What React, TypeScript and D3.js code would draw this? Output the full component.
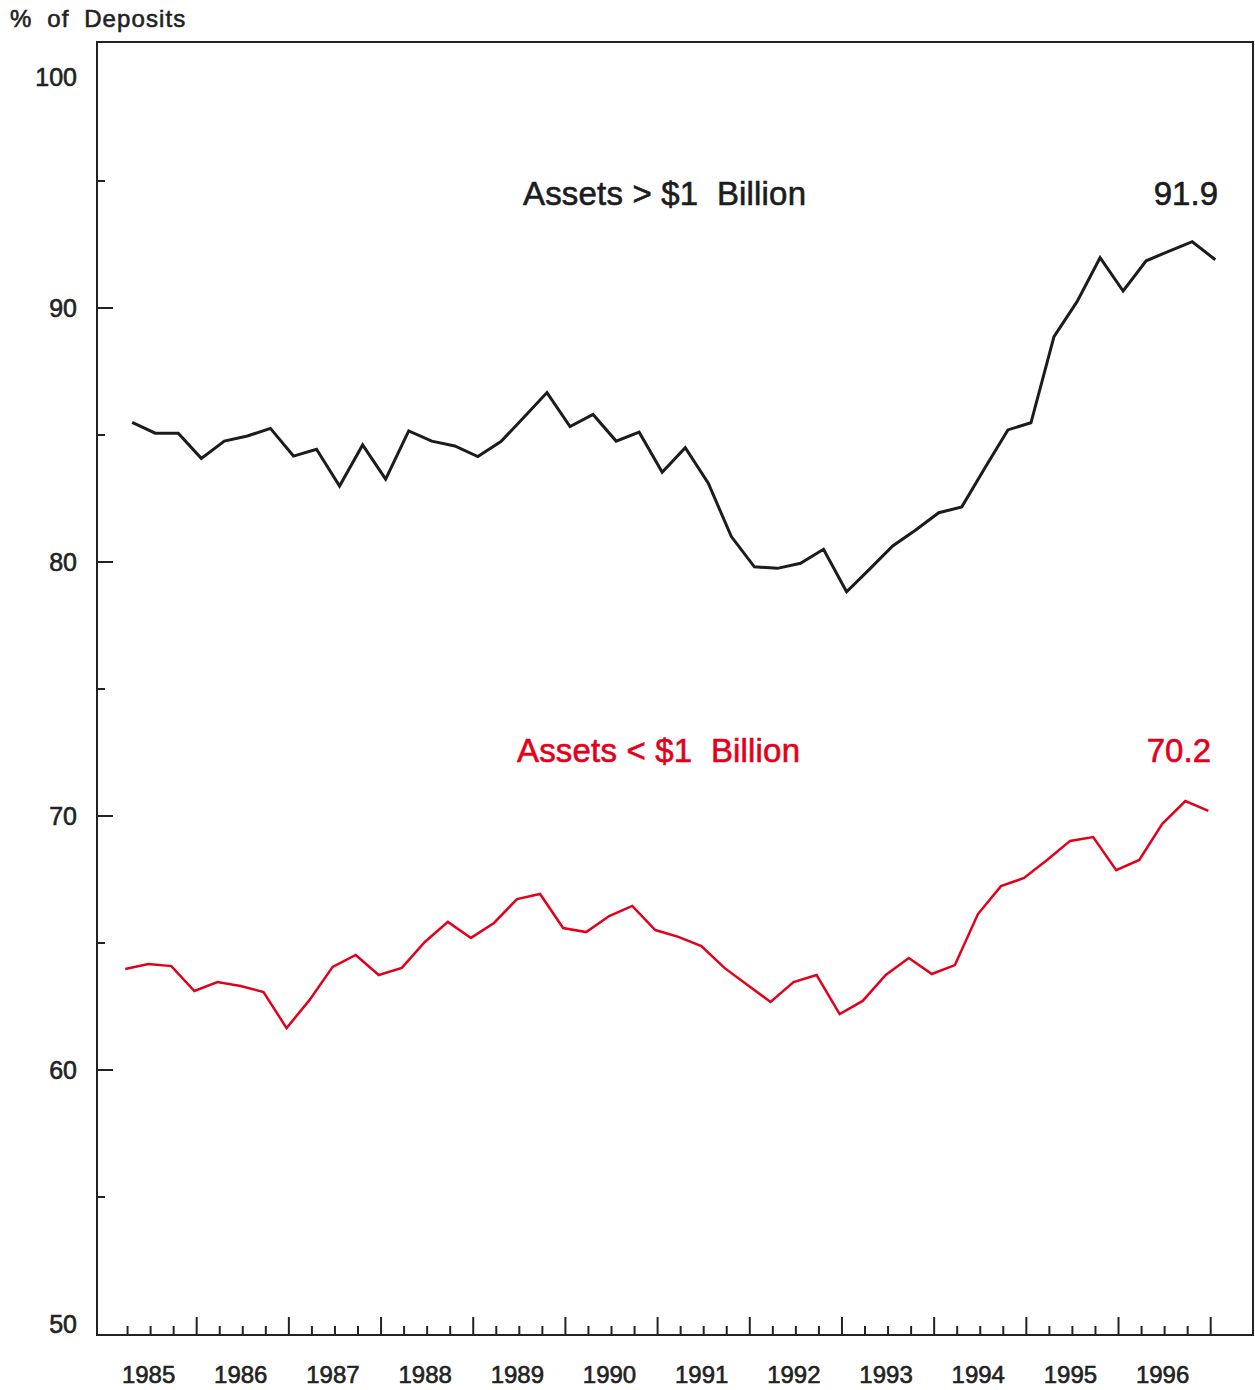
import React from "react";
import * as d3 from "d3";

// ---- Data (quarterly, 1985Q1 .. 1996Q4) ----
const years = [1985, 1986, 1987, 1988, 1989, 1990, 1991, 1992, 1993, 1994, 1995, 1996];
const quarters = years.flatMap((y) => [1, 2, 3, 4].map((q) => `${y}Q${q}`));

const largeBanks = [
  85.5, 85.07, 85.07, 84.08, 84.76, 84.96, 85.26, 84.17,
  84.44, 82.99, 84.61, 83.26, 85.16, 84.76, 84.57, 84.15,
  84.74, 85.7, 86.67, 85.33, 85.81, 84.76, 85.11, 83.53,
  84.5, 83.1, 81.0, 79.81, 79.75, 79.95, 80.5, 78.83,
  79.72, 80.63, 81.26, 81.94, 82.17, 83.7, 85.2, 85.48,
  88.87, 90.25, 91.98, 90.67, 91.86, 92.24, 92.61, 91.9,
];
const smallBanks = [
  63.98, 64.17, 64.09, 63.11, 63.46, 63.31, 63.07, 61.65,
  62.76, 64.06, 64.53, 63.74, 64.02, 65.04, 65.83, 65.2,
  65.79, 66.73, 66.93, 65.59, 65.43, 66.06, 66.46, 65.51,
  65.24, 64.88, 64.02, 63.35, 62.68, 63.46, 63.74, 62.2,
  62.72, 63.74, 64.41, 63.78, 64.13, 66.14, 67.24, 67.56,
  68.27, 69.02, 69.17, 67.87, 68.27, 69.69, 70.59, 70.2,
];

const yTickLabels = [50, 60, 70, 80, 90, 100];
const yMajorTicks = [60, 70, 80, 90];
const yMinorTicks = [55, 65, 75, 85, 95];

const seriesLabels = {
  large: "Assets > $1  Billion",
  small: "Assets < $1  Billion",
};
const lastLabels = { large: "91.9", small: "70.2" };
const yTitle = "% of Deposits";

// ---- Layout ----
const W = 1255;
const H = 1390;
const frame = { left: 97, right: 1253, top: 42, bottom: 1335 };
const BLACK = "#1c1c1e";
const RED = "#e3001b";
const FONT = "'Liberation Sans', Arial, Helvetica, sans-serif";

export default function App() {
  const x = d3.scaleLinear().domain([1985, 1997]).range([104.5, 1210.7]);
  const y = d3.scaleLinear().domain([90, 50]).range([308, 1324]);

  const qTime = (i: number, offset: number) => years[0] + offset + i * 0.25;
  const largePts = largeBanks.map((v, i) => [x(qTime(i, 0.3)), y(v)] as [number, number]);
  const smallPts = smallBanks.map((v, i) => [x(qTime(i, 0.225)), y(v)] as [number, number]);
  const line = d3.line();

  const minorX = quarters
    .map((_, i) => years[0] + i * 0.25)
    .filter((t) => t > years[0] && Math.abs(t - Math.round(t)) > 1e-6);
  const majorX = d3.range(years[0] + 1, years[years.length - 1] + 2);

  const heavy = (c: string) => ({ stroke: c, strokeWidth: 0.6 });

  return (
    <svg
      width={W}
      height={H}
      style={{ position: "absolute", left: 0, top: 0, background: "#fff" }}
      fontFamily={FONT}
    >
      <rect x={0} y={0} width={W} height={H} fill="#fff" />
      {/* frame */}
      <rect
        x={frame.left}
        y={frame.top}
        width={frame.right - frame.left}
        height={frame.bottom - frame.top}
        fill="none"
        stroke="#222"
        strokeWidth={2}
      />
      {/* y title */}
      <text x={10} y={27} fontSize={24} fill="#222" wordSpacing={7} letterSpacing={1.1} {...heavy("#222")}>
        {yTitle}
      </text>
      {/* y ticks */}
      {yMajorTicks.map((v) => (
        <line key={"ym" + v} x1={frame.left} x2={frame.left + 16} y1={y(v)} y2={y(v)} stroke="#222" strokeWidth={2} />
      ))}
      {yMinorTicks.map((v) => (
        <line key={"yn" + v} x1={frame.left} x2={frame.left + 8} y1={y(v)} y2={y(v)} stroke="#222" strokeWidth={2} />
      ))}
      {yTickLabels.map((v) => (
        <text
          key={"yl" + v}
          x={77}
          y={Math.max(y(v), frame.top + 35) + 9}
          fontSize={25}
          textAnchor="end"
          fill="#222"
          {...heavy("#222")}
        >
          {v}
        </text>
      ))}
      {/* x ticks */}
      {minorX.map((t) => (
        <line key={"xn" + t} x1={x(t)} x2={x(t)} y1={frame.bottom} y2={frame.bottom - 9} stroke="#222" strokeWidth={2} />
      ))}
      {majorX.map((t) => (
        <line key={"xm" + t} x1={x(t)} x2={x(t)} y1={frame.bottom} y2={frame.bottom - 18} stroke="#222" strokeWidth={2} />
      ))}
      {years.map((yr) => (
        <text key={"xl" + yr} x={x(yr + 0.5) - 2} y={1383} fontSize={24} textAnchor="middle" fill="#222" {...heavy("#222")}>
          {yr}
        </text>
      ))}
      {/* lines */}
      <path d={line(largePts) || ""} fill="none" stroke={BLACK} strokeWidth={3} strokeLinejoin="miter" />
      <path d={line(smallPts) || ""} fill="none" stroke={RED} strokeWidth={2.5} strokeLinejoin="miter" />
      {/* annotations */}
      <text x={523} y={205} fontSize={33} fill={BLACK} style={{ whiteSpace: "pre" }} textLength={283} {...heavy(BLACK)}>
        {seriesLabels.large}
      </text>
      <text x={1218} y={205} fontSize={33} fill={BLACK} textAnchor="end" {...heavy(BLACK)}>
        {lastLabels.large}
      </text>
      <text x={517} y={762} fontSize={33} fill={RED} style={{ whiteSpace: "pre" }} textLength={283} {...heavy(RED)}>
        {seriesLabels.small}
      </text>
      <text x={1211} y={762} fontSize={33} fill={RED} textAnchor="end" {...heavy(RED)}>
        {lastLabels.small}
      </text>
    </svg>
  );
}
